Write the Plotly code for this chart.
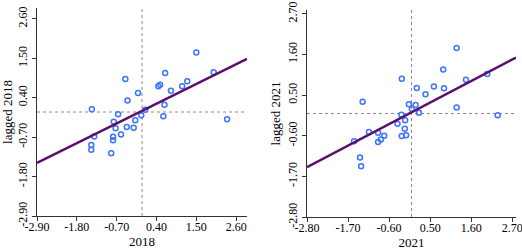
import plotly.graph_objects as go

# ---- data (standardized values) ----
x_2018 = [1.50, 1.98, 0.64, -0.46, 0.45, 0.50, 1.25, 1.11, 0.80, -0.11,
          -0.40, 0.62, -1.385, -0.66, 0.09, -0.02, 0.59, 2.35, -0.185, -0.78,
          -0.73, -0.42, -0.23, -0.58, -1.32, -0.80, -0.80, -1.40, -1.40, -0.85]
lag_2018 = [1.66, 1.11, 1.09, 0.92, 0.72, 0.76, 0.86, 0.72, 0.59, 0.53,
            0.32, 0.20, 0.075, -0.065, 0.065, -0.09, -0.12, -0.20, -0.23, -0.27,
            -0.455, -0.42, -0.44, -0.63, -0.68, -0.69, -0.79, -0.92, -1.05, -1.15]

x_2021 = [1.21, 0.85, -0.26, 1.46, 2.03, 0.14, 0.60, 0.87, 0.375, -1.31,
          -0.07, 0.11, 1.21, 0.01, 0.20, 2.31, -0.27, -0.17, -0.375, -1.14,
          -0.895, -0.18, -1.54, -0.73, -0.82, -0.895, -0.26, -0.145, -1.38, -1.35]
lag_2021 = [1.77, 1.19, 0.94, 0.91, 1.07, 0.69, 0.73, 0.68, 0.52, 0.32,
            0.25, 0.23, 0.16, 0.12, 0.02, -0.05, -0.035, -0.18, -0.28, -0.50,
            -0.52, -0.41, -0.75, -0.60, -0.70, -0.77, -0.61, -0.59, -1.19, -1.43]

# regression (Moran's I slope / intercept)
slope_2018, intercept_2018 = 0.50, 0.03
slope_2021, intercept_2021 = 0.53, 0.03

range_2018 = [-2.9, 2.9]
range_2021 = [-2.8, 2.8]
ticks_2018 = [-2.90, -1.80, -0.70, 0.40, 1.50, 2.60]
ticks_2021 = [-2.80, -1.70, -0.60, 0.50, 1.60, 2.70]
tick_text_2018 = ["-2.90", "-1.80", "-0.70", "0.40", "1.50", "2.60"]
tick_text_2021 = ["-2.80", "-1.70", "-0.60", "0.50", "1.60", "2.70"]

PT_COLOR = "#3f74ff"
LINE_COLOR = "#5a0f6e"
FONT = "Liberation Serif, Times New Roman, serif"

fig = go.Figure()

panels = [
    (x_2018, lag_2018, slope_2018, intercept_2018, range_2018, "x", "y"),
    (x_2021, lag_2021, slope_2021, intercept_2021, range_2021, "x2", "y2"),
]

for xs, ys, b, a, rng, xa, ya in panels:
    fig.add_trace(go.Scatter(
        x=xs, y=ys, mode="markers", xaxis=xa, yaxis=ya,
        marker=dict(symbol="circle-open", size=5, color=PT_COLOR, line=dict(width=1.5, color=PT_COLOR)),
        showlegend=False, hoverinfo="skip"))
    fig.add_trace(go.Scatter(
        x=[rng[0], rng[1]], y=[a + b * rng[0], a + b * rng[1]], mode="lines",
        xaxis=xa, yaxis=ya, line=dict(color=LINE_COLOR, width=2.5),
        showlegend=False, hoverinfo="skip"))
    fig.add_shape(type="line", xref=xa, yref=ya, x0=0, x1=0, y0=rng[0], y1=rng[1],
                  line=dict(color="#8a8a8a", width=1, dash="dot"), layer="below")
    fig.add_shape(type="line", xref=xa, yref=ya, x0=rng[0], x1=rng[1], y0=0, y1=0,
                  line=dict(color="#8a8a8a", width=1, dash="dot"), layer="below")

axis_common = dict(showgrid=False, zeroline=False, showline=True, linecolor="#333333",
                   linewidth=1, ticks="outside", ticklen=4, tickcolor="#333333",
                   automargin=False, ticklabeloverflow="allow",
                   tickfont=dict(family=FONT, size=12, color="#000000"),
                   title_font=dict(family=FONT, size=13, color="#000000"))

fig.update_layout(
    width=522, height=250,
    margin=dict(l=0, r=0, t=0, b=0),
    paper_bgcolor="white", plot_bgcolor="white",
    font=dict(family=FONT, color="#000000"),
    xaxis=dict(domain=[37/522, 247/522], range=range_2018, tickvals=ticks_2018, ticktext=tick_text_2018,
               ticklabelstandoff=-4, title=dict(text="2018", standoff=3), anchor="y", **axis_common),
    yaxis=dict(domain=[34/250, 242/250], range=range_2018, tickvals=ticks_2018, ticktext=tick_text_2018,
               tickangle=-90, title=dict(text="lagged 2018", standoff=2), anchor="x", **axis_common),
    xaxis2=dict(domain=[307/522, 516/522], range=range_2021, tickvals=ticks_2021, ticktext=tick_text_2021,
                ticklabelstandoff=-4, title=dict(text="2021", standoff=3), anchor="y2", **axis_common),
    yaxis2=dict(domain=[33/250, 240/250], range=range_2021, tickvals=ticks_2021, ticktext=tick_text_2021,
                tickangle=-90, title=dict(text="lagged 2021", standoff=2), anchor="x2", **axis_common),
)

fig.write_html("out.html", config={"displayModeBar": False},
               post_script="document.body.style.margin='0';document.body.style.overflow='hidden';")
